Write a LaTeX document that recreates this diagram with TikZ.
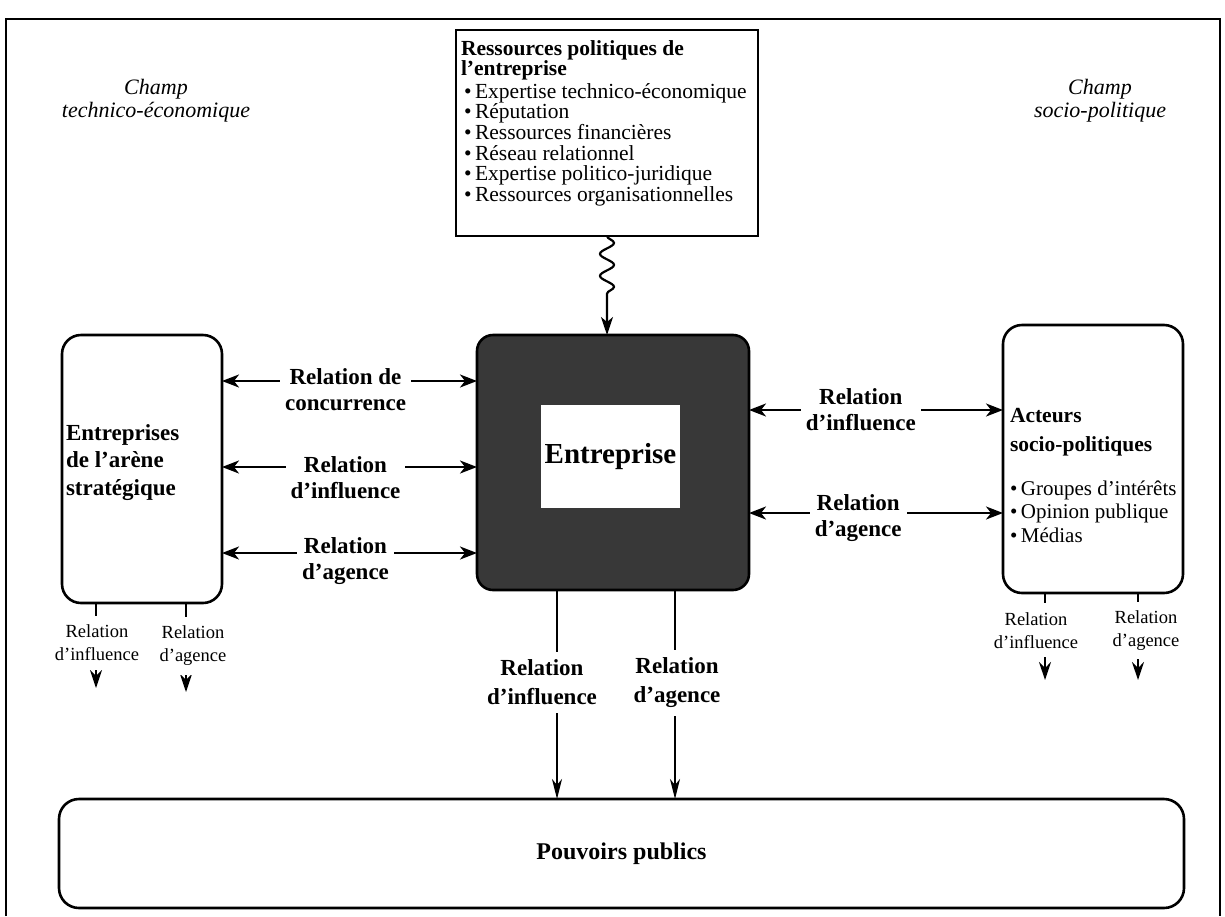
\documentclass[tikz,border=0pt]{standalone}
\usepackage{fontspec}
\setmainfont{Liberation Serif}
\usetikzlibrary{arrows.meta,decorations.pathmorphing}

\newcommand\fsz[2]{\fontsize{#1}{#2}\selectfont}

\begin{document}
\begin{tikzpicture}[x=1pt,y=-1pt,
  every node/.style={inner sep=0pt, outer sep=0pt},
  rbox/.style={draw, line width=2.6pt, rounded corners=19pt},
  dbl/.style={line width=2.2pt, {Stealth[length=17pt,width=13pt,inset=5pt]}-{Stealth[length=17pt,width=13pt,inset=5pt]}},
  dnlong/.style={line width=2.2pt, -{Stealth[length=20pt,width=10pt,inset=6pt]}},
  dnshort/.style={line width=1.8pt, -{Stealth[length=18pt,width=12pt,inset=6pt]}},
  lblb/.style={font=\fsz{23}{26}\bfseries, align=center, fill=white, inner xsep=5pt, inner ysep=2pt},
  lblc/.style={font=\fsz{23}{29}\bfseries, align=center, fill=white, inner xsep=4pt, inner ysep=8pt},
  lbls/.style={font=\fsz{18.5}{23}, align=center, fill=white, inner xsep=3pt, inner ysep=9pt},
  champ/.style={font=\fsz{22}{23}\itshape, align=center},
]
\useasboundingbox (0,0) rectangle (1225,916);

% outer frame, open at the bottom
\draw[line width=2pt] (6,916) -- (6,19) -- (1220,19) -- (1220,916);

% field captions
\node[champ] (champte) at (156,101) {Champ\\technico-économique};
\node[champ] (champsp) at (1100,101) {Champ\\socio-politique};

% political resources of the firm
\node[draw, line width=2.4pt, minimum width=302, minimum height=206] (res) at (607,133) {};
\node[anchor=west, align=left, font=\fsz{21.5}{20.6}] (restxt) at (461,123)
  {{\bfseries Ressources politiques de}\\
   {\bfseries l'entreprise}\\[2pt]
   \hspace{3pt}•\,Expertise technico-économique\\
   \hspace{3pt}•\,Réputation\\
   \hspace{3pt}•\,Ressources financières\\
   \hspace{3pt}•\,Réseau relationnel\\
   \hspace{3pt}•\,Expertise politico-juridique\\
   \hspace{3pt}•\,Ressources organisationnelles};

% the firm
\node[rbox, fill=black!78, minimum width=272, minimum height=255, rounded corners=16pt] (ent) at (613,462.5) {};
\node[fill=white, minimum width=139, minimum height=103, font=\fsz{29}{32}\bfseries] (entin) at (610.5,456.5) {Entreprise};

% squiggly arrow from resources to the firm
\draw[line width=2.2pt, decorate,
      decoration={snake, amplitude=7pt, segment length=22pt, post length=34pt},
      -{Stealth[length=18pt,width=12pt,inset=5pt]}]
  (res.south) -- (res.south |- ent.north);

% strategic arena firms
\node[rbox, minimum width=160, minimum height=268] (arena) at (142,469) {};
\node[anchor=west, align=left, font=\fsz{23}{27.5}\bfseries] (arenatxt) at (66,462.5)
  {Entreprises\\de l'arène\\stratégique};

% socio-political actors
\node[rbox, minimum width=180, minimum height=268] (act) at (1093,459) {};
\node[anchor=west, align=left, font=\fsz{21.5}{29}\bfseries] (acttitle) at (1010,432)
  {Acteurs\\socio-politiques};
\node[anchor=west, align=left, font=\fsz{21}{23.5}] (actlist) at (1010,511.5)
  {•\,Groupes d'intérêts\\
   •\,Opinion publique\\
   •\,Médias};

% public authorities
\node[rbox, minimum width=1125, minimum height=109, rounded corners=20pt, font=\fsz{24}{28}\bfseries] (pou) at (621.5,853.5) {Pouvoirs publics};

% horizontal relations, left side
\coordinate (ya) at (0,381);
\coordinate (yb) at (0,467);
\coordinate (yc) at (0,553);
\draw[dbl] (arena.east |- ya) -- (ent.west |- ya)
  node[lblb, midway, xshift=-4pt, yshift=-9pt] (la1) {Relation de\\concurrence};
\draw[dbl] (arena.east |- yb) -- (ent.west |- yb)
  node[lblb, midway, xshift=-4pt, yshift=-11pt] (la2) {Relation\\d'influence};
\draw[dbl] (arena.east |- yc) -- (ent.west |- yc)
  node[lblb, midway, xshift=-4pt, yshift=-8pt] (la3) {Relation\\d'agence};

% horizontal relations, right side
\coordinate (yd) at (0,410);
\coordinate (ye) at (0,513);
\draw[dbl] (ent.east |- yd) -- (act.west |- yd)
  node[lblb, pos=0.44] (ra1) {Relation\\d'influence};
\draw[dbl] (ent.east |- ye) -- (act.west |- ye)
  node[lblb, pos=0.43, yshift=-5pt] (ra2) {Relation\\d'agence};

% relations from the firm to public authorities
\coordinate (xa) at (557,0);
\coordinate (xb) at (675,0);
\draw[dnlong] (ent.south -| xa) -- (pou.north -| xa)
  node[lblc, pos=0.443, xshift=-15pt] (da1) {Relation\\d'influence};
\draw[dnlong] (ent.south -| xb) -- (pou.north -| xb)
  node[lblc, pos=0.443, xshift=2pt] (da2) {Relation\\d'agence};

% small relations below the side boxes
\coordinate (ta) at (96,688);
\coordinate (tb) at (186,692);
\coordinate (tc) at (1045,680);
\coordinate (td) at (1138,680);
\draw[dnshort] (arena.south -| ta) -- (ta)
  node[lbls, pos=0.47, xshift=1pt] (sa) {Relation\\d'influence};
\draw[dnshort] (arena.south -| tb) -- (tb)
  node[lbls, pos=0.48, xshift=7pt] (sb) {Relation\\d'agence};
\draw[dnshort] (act.south -| tc) -- (tc)
  node[lbls, pos=0.43, xshift=-9pt] (sc) {Relation\\d'influence};
\draw[dnshort] (act.south -| td) -- (td)
  node[lbls, pos=0.43, xshift=8pt] (sd) {Relation\\d'agence};
\end{tikzpicture}
\end{document}
